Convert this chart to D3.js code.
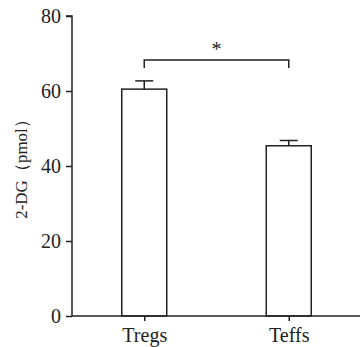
<!DOCTYPE html>
<html>
<head>
<meta charset="utf-8">
<script src="https://cdn.jsdelivr.net/npm/d3@7"></script>
<style>
    body { margin: 0; background: #fff; }
</style>
</head>
<body>
<script>
const categories = ["Tregs", "Teffs"];
const means = [60.5, 45.4];
const errors = [2.2, 1.4];
const yTicks = [0, 20, 40, 60, 80];
const sigPair = ["Tregs", "Teffs"];
const sigLevel = 68.3;
const sigLabel = "*";

const width = 360, height = 347;
const barWidth = 45, capWidth = 18;
const ink = "#222";
const serif = "Liberation Serif";

const x = d3.scalePoint()
    .domain(categories)
    .range([72, 361])
    .padding(0.5);

const y = d3.scaleLinear()
    .domain([0, 80])
    .range([316, 16]);

const svg = d3.select("body").append("svg")
    .attr("width", width)
    .attr("height", height)
    .style("font-family", serif);

const data = categories.map((c, i) => ({ cat: c, mean: means[i], err: errors[i] }));

// bars
svg.selectAll("rect.bar")
    .data(data)
    .enter().append("rect")
    .attr("class", "bar")
    .attr("x", d => x(d.cat) - barWidth / 2)
    .attr("y", d => y(d.mean))
    .attr("width", barWidth)
    .attr("height", d => y(0) - y(d.mean))
    .attr("fill", "#fff")
    .attr("stroke", ink)
    .attr("stroke-width", 1.5);

// error bars
svg.selectAll("line.err")
    .data(data)
    .enter().append("line")
    .attr("class", "err")
    .attr("x1", d => x(d.cat))
    .attr("x2", d => x(d.cat))
    .attr("y1", d => y(d.mean))
    .attr("y2", d => y(d.mean + d.err))
    .attr("stroke", ink)
    .attr("stroke-width", 1.5);

svg.selectAll("line.cap")
    .data(data)
    .enter().append("line")
    .attr("class", "cap")
    .attr("x1", d => x(d.cat) - capWidth / 2)
    .attr("x2", d => x(d.cat) + capWidth / 2)
    .attr("y1", d => y(d.mean + d.err))
    .attr("y2", d => y(d.mean + d.err))
    .attr("stroke", ink)
    .attr("stroke-width", 1.5);

// y axis
const yAxis = svg.append("g")
    .attr("transform", "translate(" + x.range()[0] + ",0)")
    .call(d3.axisLeft(y).tickValues(yTicks).tickSize(6).tickPadding(5));
yAxis.select(".domain").attr("stroke", ink).attr("stroke-width", 1.5)
    .attr("d", "M-6," + y(80) + "H0V" + y(0));
yAxis.selectAll(".tick line").attr("stroke", ink).attr("stroke-width", 1.5);
yAxis.selectAll(".tick text")
    .attr("fill", ink)
    .attr("dy", "0.34em")
    .style("font-family", serif)
    .style("font-size", "20px");

// x axis
const xAxis = svg.append("g")
    .attr("transform", "translate(0," + y(0) + ")")
    .call(d3.axisBottom(x).tickSize(5).tickPadding(7));
xAxis.select(".domain").attr("stroke", ink).attr("stroke-width", 1.5)
    .attr("d", "M" + x.range()[0] + ",0H" + width);
xAxis.selectAll(".tick line").attr("stroke", ink).attr("stroke-width", 1.5);
xAxis.selectAll(".tick text")
    .attr("fill", ink)
    .style("font-family", serif)
    .style("font-size", "20px");

// y label
svg.append("text")
    .attr("transform", "translate(27,165) rotate(-90)")
    .attr("text-anchor", "middle")
    .attr("fill", ink)
    .style("font-family", serif)
    .style("font-size", "17px")
    .text("2-DG（pmol）");

// significance bracket
const bx1 = x(sigPair[0]), bx2 = x(sigPair[1]), by = y(sigLevel);
svg.append("path")
    .attr("d", "M" + bx1 + "," + (by + 8) + "V" + by + "H" + bx2 + "V" + (by + 8))
    .attr("fill", "none")
    .attr("stroke", ink)
    .attr("stroke-width", 1.5);

svg.append("text")
    .attr("x", (bx1 + bx2) / 2)
    .attr("y", by - 4)
    .attr("text-anchor", "middle")
    .attr("fill", ink)
    .style("font-family", serif)
    .style("font-size", "20px")
    .text(sigLabel);
</script>
</body>
</html>
